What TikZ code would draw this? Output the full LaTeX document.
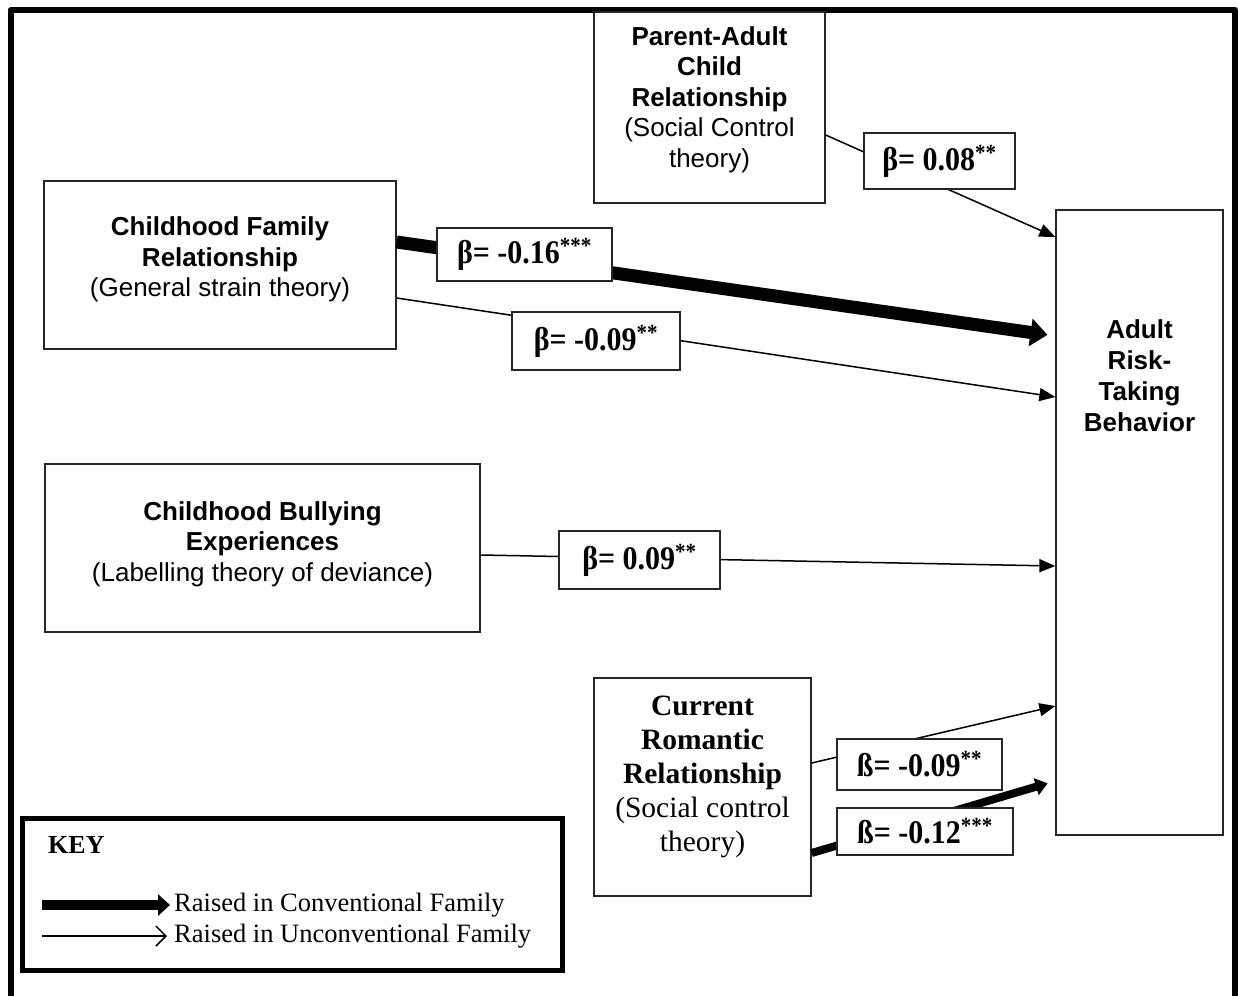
\documentclass[tikz,border=0pt]{standalone}
\usepackage{fontspec}
\usepackage{graphicx}
\setmainfont{Liberation Serif}
\newfontfamily\arialfont{Liberation Sans}
\usetikzlibrary{arrows.meta}

% coefficient text is set a little taller than wide
\newcommand\coeftext[1]{\scalebox{1}[1.1]{#1}}

\tikzset{
  varbox/.style={draw=black!85, line width=1.3pt, fill=white, inner sep=0pt},
  coef/.style={draw=black!85, line width=1.3pt, fill=white, inner sep=0pt,
    font=\fontsize{30}{30}\selectfont\bfseries},
  sanstext/.style={align=center, inner sep=0pt, font=\arialfont\fontsize{26}{30.5}\selectfont},
  seriftext/.style={align=center, inner sep=0pt, font=\fontsize{29.5}{34}\selectfont},
  keytext/.style={anchor=west, inner sep=0pt, font=\fontsize{26.5}{30}\selectfont},
  thinpath/.style={line width=1.5pt, -{Triangle[length=16pt,width=13pt]}},
  thickpath/.style={line width=13pt, -{Triangle[length=17pt,width=27pt]}, shorten >=8pt},
  midpath/.style={line width=8pt, -{Triangle[length=12pt,width=17pt]}, shorten >=8pt},
}

\begin{document}
\begin{tikzpicture}[x=1pt, y=-1pt]
\useasboundingbox (0,0) rectangle (1238,995);
\fill[white] (0,0) rectangle (1238,995);

% outer frame (open at the bottom)
\draw[line width=6pt, line join=round] (10.5,1000) -- (10.5,10) -- (1235,10) -- (1235,1000);

% variable boxes
\node[varbox, minimum width=231pt, minimum height=191pt] (parent) at (709.5,107.5) {};
\node[sanstext] (parent-t) at (709.5,99.5)
  {\textbf{Parent-Adult}\\\textbf{Child}\\\textbf{Relationship}\\(Social Control\\theory)};

\node[varbox, minimum width=352pt, minimum height=168pt] (family) at (220,265) {};
\node[sanstext] (family-t) at (220,259.5)
  {\textbf{Childhood Family}\\\textbf{Relationship}\\(General strain theory)};

\node[varbox, minimum width=435pt, minimum height=168pt] (bullying) at (262.5,548) {};
\node[sanstext] (bullying-t) at (262.5,544)
  {\textbf{Childhood Bullying}\\\textbf{Experiences}\\(Labelling theory of deviance)};

\node[varbox, minimum width=217pt, minimum height=218pt] (current) at (702.5,787) {};
\node[seriftext] (current-t) at (702.5,777)
  {\textbf{Current}\\\textbf{Romantic}\\\textbf{Relationship}\\(Social control\\theory)};

\node[varbox, minimum width=167pt, minimum height=625pt] (adult) at (1139.5,522.5) {};
\node[sanstext, font=\arialfont\bfseries\fontsize{26}{31}\selectfont] (adult-t) at (1139.5,375.5)
  {Adult\\Risk-\\Taking\\Behavior};

% paths into adult risk-taking behaviour
\draw[thinpath]  ([yshift=-27.5pt]parent.east) -- ([yshift=285.5pt]adult.west);
\draw[thickpath] ([yshift=23pt]family.east)    -- ([yshift=186.5pt]adult.west);
\draw[thinpath]  ([yshift=-33pt]family.east)   -- ([yshift=125.5pt]adult.west);
\draw[thinpath]  ([yshift=-7pt]bullying.east)  -- ([yshift=-43.5pt]adult.west);
\draw[thinpath]  ([yshift=24pt]current.east)   -- ([yshift=-183.5pt]adult.west);
\draw[midpath]   ([yshift=-66pt]current.east)  -- ([yshift=-258.5pt]adult.west);

% path coefficients
\node[coef, minimum width=151pt, minimum height=56pt] (c-parent) at (939.5,161) {\coeftext{β= 0.08\textsuperscript{**}}};
\node[coef, minimum width=175pt, minimum height=53pt] (c-family1) at (524.5,254.5) {\coeftext{β= -0.16\textsuperscript{***}}};
\node[coef, minimum width=168pt, minimum height=58pt] (c-family2) at (596,341) {\coeftext{β= -0.09\textsuperscript{**}}};
\node[coef, minimum width=161pt, minimum height=58pt] (c-bullying) at (639.5,560) {\coeftext{β= 0.09\textsuperscript{**}}};
\node[coef, minimum width=165pt, minimum height=51pt] (c-current1) at (919.5,764.5) {\coeftext{ß= -0.09\textsuperscript{**}}};
\node[coef, minimum width=176pt, minimum height=47pt] (c-current2) at (925,831.5) {\coeftext{ß= -0.12\textsuperscript{***}}};

% key
\node[draw, line width=5pt, minimum width=540pt, minimum height=152pt, inner sep=0pt] (key) at (292,894) {};
\node[anchor=west, inner sep=0pt, font=\fontsize{26}{26}\selectfont\bfseries] (key-title) at (48,845) {KEY};
\node[keytext] (key-conv) at (174,905) {Raised in Conventional Family};
\node[keytext] (key-unconv) at (174,936) {Raised in Unconventional Family};
\coordinate (key-conv-start) at (42,905);
\coordinate (key-unconv-start) at (42,936);
\draw[line width=10pt, -{Triangle[length=12pt,width=21pt]}, shorten >=4pt] (key-conv-start) -- (key-conv.west);
\draw[line width=1.5pt, -{Straight Barb[length=10pt,width=20pt]}, shorten >=7pt] (key-unconv-start) -- (key-unconv.west);
\end{tikzpicture}
\end{document}
